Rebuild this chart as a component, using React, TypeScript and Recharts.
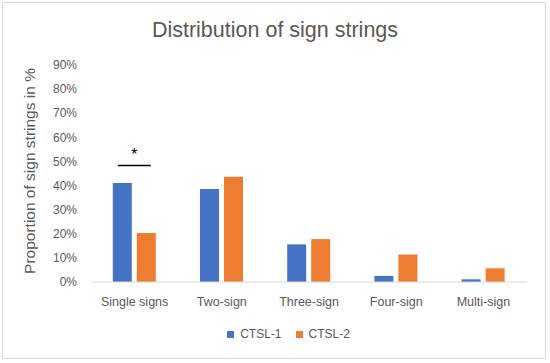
import React from 'react';
import { BarChart, Bar, XAxis, YAxis, Legend, LabelList } from 'recharts';

const categories = ['Single signs', 'Two-sign', 'Three-sign', 'Four-sign', 'Multi-sign'];
const ctsl1 = [41.1, 38.6, 15.6, 2.5, 1.1];
const ctsl2 = [20.3, 43.7, 17.8, 11.4, 5.7];
const yTicks = [0, 10, 20, 30, 40, 50, 60, 70, 80, 90];
const sigLevel = 48.3;

const data = categories.map((c, i) => ({ name: c, 'CTSL-1': ctsl1[i], 'CTSL-2': ctsl2[i] }));

const FONT = '"Liberation Sans", Arial, sans-serif';
const GREY = '#595959';

const SigLabel = (props: any) => {
  const { x, y, width, height, value, index } = props;
  if (index !== 0) return null;
  const bottom = y + height;
  const scale = height / value;
  const ly = bottom - sigLevel * scale;
  const gap = 5;
  const x1 = x;
  const x2 = x + width * 2 + gap;
  return (
    <g>
      <line x1={x1 + 5} x2={x2 - 5} y1={ly} y2={ly} stroke="#000" strokeWidth={1.5} />
      <text x={(x1 + x2) / 2} y={ly - 6} textAnchor="middle" fontSize={16} fontFamily={FONT} fill="#000">*</text>
    </g>
  );
};

const LegendContent = () => (
  <div style={{ display: 'flex', justifyContent: 'center', fontFamily: FONT, fontSize: 12, color: GREY }}>
    <span style={{ display: 'flex', alignItems: 'center', marginRight: 14 }}>
      <span style={{ width: 7, height: 7, background: '#4472C4', display: 'inline-block', marginRight: 6 }} />CTSL-1
    </span>
    <span style={{ display: 'flex', alignItems: 'center' }}>
      <span style={{ width: 7, height: 7, background: '#ED7D31', display: 'inline-block', marginRight: 6 }} />CTSL-2
    </span>
  </div>
);

export default function App() {
  return (
    <div style={{ position: 'absolute', left: 0, top: 0, width: 550, height: 363, background: '#fff' }}>
      <div style={{ position: 'absolute', left: 2, top: 2, width: 544, height: 357, border: '1px solid #D9D9D9', boxSizing: 'border-box' }} />
      <div style={{ position: 'absolute', left: 0, top: 18, width: 550, textAlign: 'center', fontFamily: FONT, fontSize: 21.5, color: GREY }}>
        Distribution of sign strings
      </div>
      <div style={{ position: 'absolute', left: 30, top: 171, width: 0, height: 0 }}>
        <div style={{ position: 'absolute', transform: 'translate(-50%, -50%) rotate(-90deg)', whiteSpace: 'nowrap', fontFamily: FONT, fontSize: 15.5, color: GREY }}>
          Proportion of sign strings in %
        </div>
      </div>
      <BarChart width={550} height={363} data={data} margin={{ top: 65, right: 23, bottom: 7, left: 50 }} barGap={5} barCategoryGap="25%">
        <XAxis dataKey="name" axisLine={{ stroke: '#D9D9D9' }} tickLine={false} height={40} tick={{ fontFamily: FONT, fontSize: 12.5, fill: GREY }} tickMargin={9} />
        <YAxis domain={[0, 90]} ticks={yTicks} interval={0} width={41} axisLine={false} tickLine={false} tickFormatter={(v: number) => v + '%'} tick={{ fontFamily: FONT, fontSize: 12, fill: GREY }} tickMargin={8} />
        <Legend verticalAlign="bottom" height={29} content={<LegendContent />} wrapperStyle={{ paddingTop: 5 }} />
        <Bar dataKey="CTSL-1" fill="#4472C4" isAnimationActive={false}>
          <LabelList dataKey="CTSL-1" content={<SigLabel />} />
        </Bar>
        <Bar dataKey="CTSL-2" fill="#ED7D31" isAnimationActive={false} />
      </BarChart>
    </div>
  );
}
